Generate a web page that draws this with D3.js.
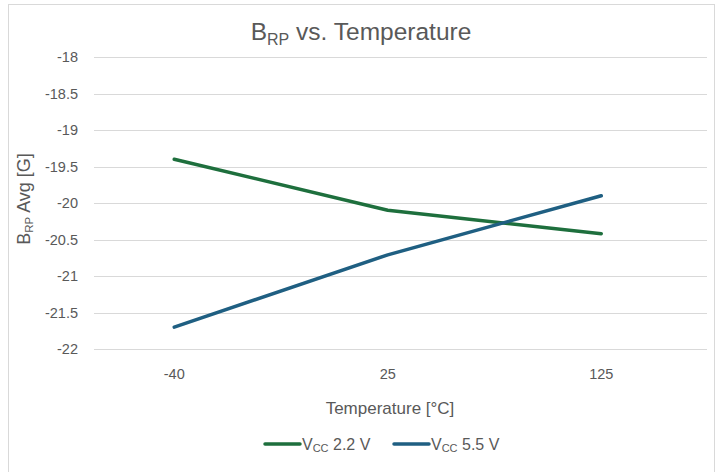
<!DOCTYPE html>
<html>
<head>
<meta charset="utf-8">
<script src="https://cdn.jsdelivr.net/npm/d3@7"></script>
<style>
  body { margin: 0; background: #fff; }
  text { font-family: "Liberation Sans", Arial, sans-serif; fill: #595959; }
</style>
</head>
<body>
<svg id="chart"></svg>
<script>
let temps = ['-40', '25', '125']
let vcc22 = [-19.4, -20.1, -20.42]
let vcc55 = [-21.7, -20.71, -19.9]
let yTicks = [-18, -18.5, -19, -19.5, -20, -20.5, -21, -21.5, -22]

let width = 721
let height = 472

let svg = d3.select('#chart')
    .attr('width', width)
    .attr('height', height)

// chart border
svg.append('rect')
    .attr('x', 8.5).attr('y', 4.5)
    .attr('width', 706).attr('height', 480)
    .attr('fill', 'none')
    .attr('stroke', '#d9d9d9')

let xScale = d3.scaleBand()
    .domain(temps)
    .range([67.5, 708])

let yScale = d3.scaleLinear()
    .domain([-22, -18])
    .range([349, 57])

// gridlines
svg.append('g')
    .selectAll('line')
    .data(yTicks)
    .enter()
    .append('line')
    .attr('x1', 94).attr('x2', 707)
    .attr('y1', (d) => Math.round(yScale(d)) + 0.5)
    .attr('y2', (d) => Math.round(yScale(d)) + 0.5)
    .attr('stroke', '#d9d9d9')

let yAxis = d3.axisLeft(yScale)
    .tickValues(yTicks)
    .tickSize(0)
    .tickPadding(0)
    .tickFormat((d) => d3.format('')(d).replace('−', '-'))

let gy = svg.append('g')
    .attr('transform', 'translate(78, 0)')
    .call(yAxis)
gy.select('.domain').remove()
gy.selectAll('text')
    .style('font-size', '14.5px')
    .attr('fill', '#595959')

let xAxis = d3.axisBottom(xScale)
    .tickSize(0)
    .tickPadding(0)

let gx = svg.append('g')
    .attr('transform', 'translate(0, 369)')
    .call(xAxis)
gx.select('.domain').remove()
gx.selectAll('text')
    .style('font-size', '14.5px')
    .attr('fill', '#595959')

let cx = (d, i) => xScale(temps[i]) + xScale.bandwidth() / 2

let line = d3.line()
    .x(cx)
    .y((d) => yScale(d))

let series = [
    { name: '2.2 V', values: vcc22, color: '#1e6f3d' },
    { name: '5.5 V', values: vcc55, color: '#1f5f82' }
]

series.forEach((s) => {
    svg.append('path')
        .datum(s.values)
        .attr('d', line)
        .attr('fill', 'none')
        .attr('stroke', s.color)
        .attr('stroke-width', 3.5)
        .attr('stroke-linecap', 'round')
        .attr('stroke-linejoin', 'round')
})

// title
let title = svg.append('text')
    .attr('x', 361).attr('y', 40)
    .attr('text-anchor', 'middle')
    .style('font-size', '24.5px')
title.append('tspan').text('B')
title.append('tspan').text('RP').style('font-size', '16px').attr('dy', 5)
title.append('tspan').text(' vs. Temperature').attr('dy', -5)

// axis titles
svg.append('text')
    .attr('x', 390).attr('y', 414)
    .attr('text-anchor', 'middle')
    .style('font-size', '17px')
    .text('Temperature [°C]')

let yt = svg.append('text')
    .attr('transform', 'translate(30, 199) rotate(-90)')
    .attr('text-anchor', 'middle')
    .style('font-size', '18px')
yt.append('tspan').text('B')
yt.append('tspan').text('RP').style('font-size', '11.5px').attr('dy', 3)
yt.append('tspan').text(' Avg [G]').attr('dy', -3)

// legend
let legendX = [264, 393]
series.forEach((s, i) => {
    let g = svg.append('g').attr('transform', 'translate(' + legendX[i] + ', 444)')
    g.append('line')
        .attr('x1', 1).attr('x2', 36)
        .attr('stroke', s.color)
        .attr('stroke-width', 3.5)
        .attr('stroke-linecap', 'round')
    let t = g.append('text')
        .attr('x', 38).attr('y', 6)
        .style('font-size', '16px')
    t.append('tspan').text('V')
    t.append('tspan').text('CC').style('font-size', '11px').attr('dy', 2)
    t.append('tspan').text(' ' + s.name).attr('dy', -2)
})
</script>
</body>
</html>
